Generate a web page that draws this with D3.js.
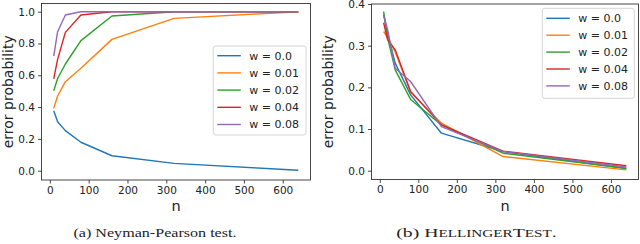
<!DOCTYPE html>
<html><head><meta charset="utf-8">
<script src="https://cdn.jsdelivr.net/npm/d3@7"></script>
<style>
body{margin:0;background:#fff;}
svg{display:block;}
</style></head>
<body><svg id="c" width="640" height="244"></svg>
<script>
const nValues = [10, 20, 40, 80, 160, 320, 640];
const seriesNames = ["w = 0.0", "w = 0.01", "w = 0.02", "w = 0.04", "w = 0.08"];
const colors = ["#1f77b4", "#ff7f0e", "#2ca02c", "#d62728", "#9467bd"];

// (a) Neyman-Pearson test
const npW00  = [0.377, 0.308, 0.252, 0.179, 0.094, 0.046, 0.003];
const npW01  = [0.392, 0.470, 0.560, 0.644, 0.826, 0.958, 1.000];
const npW02  = [0.503, 0.580, 0.671, 0.818, 0.973, 1.000, 1.000];
const npW04  = [0.577, 0.700, 0.870, 0.979, 1.000, 1.000, 1.000];
const npW08  = [0.721, 0.874, 0.979, 1.000, 1.000, 1.000, 1.000];

// (b) HellingerTest
const hW00 = [0.375, 0.330, 0.258, 0.182, 0.090, 0.046, 0.005];
const hW01 = [0.334, 0.320, 0.285, 0.188, 0.114, 0.034, 0.002];
const hW02 = [0.382, 0.320, 0.242, 0.171, 0.110, 0.042, 0.006];
const hW04 = [0.355, 0.315, 0.290, 0.190, 0.110, 0.047, 0.012];
const hW08 = [0.372, 0.340, 0.246, 0.214, 0.106, 0.046, 0.009];

const xTicks = [0, 100, 200, 300, 400, 500, 600];
const yTicksA = [0.0, 0.2, 0.4, 0.6, 0.8, 1.0];
const yTicksB = [0.0, 0.1, 0.2, 0.3, 0.4];

const svg = d3.select("#c");
const SANS = "'DejaVu Sans', sans-serif";
const SERIF = "'Liberation Serif', 'DejaVu Serif', serif";

function panel(cfg) {
  const g = svg.append("g");
  const x = d3.scaleLinear().domain([-21.5, 671.5]).range([cfg.left, cfg.right]);
  const y = d3.scaleLinear().domain(cfg.yTickDom).range(cfg.yTickPx);

  const line = d3.line().x((d, i) => x(nValues[i])).y(d => y(d));
  cfg.series.forEach((s, k) => {
    g.append("path").attr("d", line(s)).attr("fill", "none")
      .attr("stroke", colors[k]).attr("stroke-width", 1.4)
      .attr("stroke-linejoin", "round").attr("stroke-linecap", "butt");
  });

  g.append("rect").attr("x", cfg.left).attr("y", cfg.top)
    .attr("width", cfg.right - cfg.left).attr("height", cfg.bottom - cfg.top)
    .attr("fill", "none").attr("stroke", "#333").attr("stroke-width", 0.9);

  const xa = d3.axisBottom(x).tickValues(xTicks).tickSize(3.5).tickPadding(3).tickFormat(d3.format("d"));
  const gx = g.append("g").attr("transform", `translate(0,${cfg.bottom})`).call(xa);
  const ya = d3.axisLeft(y).tickValues(cfg.yTicks).tickSize(3.5).tickPadding(3).tickFormat(d3.format(".1f"));
  const gy = g.append("g").attr("transform", `translate(${cfg.left},0)`).call(ya);
  [gx, gy].forEach(a => {
    a.select(".domain").remove();
    a.selectAll("line").attr("stroke", "#333").attr("stroke-width", 0.9);
    a.selectAll("text").style("font-family", SANS).style("font-size", "10.5px").style("fill", "#222");
  });

  g.append("text").attr("x", (cfg.left + cfg.right) / 2).attr("y", cfg.bottom + 31)
    .attr("text-anchor", "middle").style("font-family", SANS).style("font-size", "14.5px")
    .style("fill", "#222").text("n");
  g.append("text").attr("transform", `translate(${cfg.ylabX},${(cfg.top + cfg.bottom) / 2}) rotate(-90)`)
    .attr("text-anchor", "middle").style("font-family", SANS).style("font-size", "14px")
    .style("fill", "#222").text("error probability");

  const L = cfg.legend;
  g.append("rect").attr("x", L.x).attr("y", L.y).attr("width", L.w).attr("height", L.h)
    .attr("rx", 2.5).attr("fill", "#fff").attr("fill-opacity", 0.8)
    .attr("stroke", "#d0d0d0").attr("stroke-width", 0.9);
  seriesNames.forEach((name, k) => {
    const yy = L.y + L.row0 + k * L.step;
    g.append("line").attr("x1", L.x + 4).attr("x2", L.x + 27.5).attr("y1", yy).attr("y2", yy)
      .attr("stroke", colors[k]).attr("stroke-width", 1.4);
    g.append("text").attr("x", L.x + 36).attr("y", yy).attr("dy", "0.36em")
      .style("font-family", SANS).style("font-size", "11px").style("fill", "#222").text(name);
  });
}

panel({
  left: 41.5, right: 310.5, top: 3.5, bottom: 180,
  yTickDom: [0, 1], yTickPx: [170.7, 11.7], yTicks: yTicksA,
  series: [npW00, npW01, npW02, npW04, npW08], ylabX: 13,
  legend: { x: 213.3, y: 46, w: 92.7, h: 89, row0: 9.7, step: 17.2 }
});
panel({
  left: 371.5, right: 638.5, top: 4, bottom: 179.5,
  yTickDom: [0, 0.4], yTickPx: [170.7, 4], yTicks: yTicksB,
  series: [hW00, hW01, hW02, hW04, hW08], ylabX: 333,
  legend: { x: 542.3, y: 8.3, w: 92, h: 90, row0: 10, step: 16.9 }
});

svg.append("text").attr("x", 155).attr("y", 236.5).attr("text-anchor", "middle")
  .style("font-family", SERIF).style("font-size", "13px").style("fill", "#222")
  .attr("textLength", 163).attr("lengthAdjust", "spacingAndGlyphs")
  .text("(a) Neyman-Pearson test.");
const cb = svg.append("text").attr("x", 476.5).attr("y", 236.5).attr("text-anchor", "middle")
  .style("font-family", SERIF).style("font-size", "13px").style("fill", "#222")
  .attr("textLength", 160.5).attr("lengthAdjust", "spacingAndGlyphs");
cb.append("tspan").text("(b) H");
cb.append("tspan").style("font-size", "10px").text("ELLINGER");
cb.append("tspan").text("T");
cb.append("tspan").style("font-size", "10px").text("EST");
cb.append("tspan").text(".");
</script></body></html>
